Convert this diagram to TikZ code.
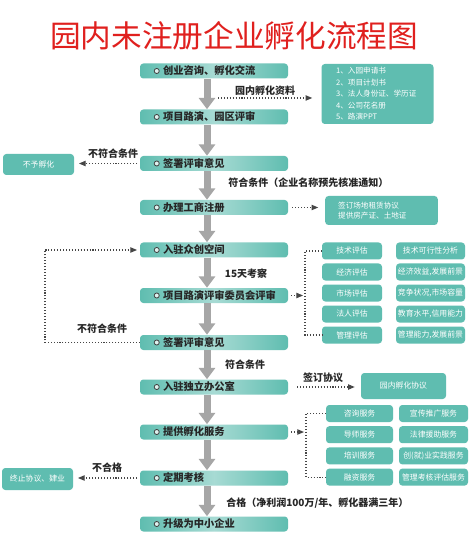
\documentclass[tikz,border=0pt]{standalone}
\usepackage{fontspec}
\setmainfont{Noto Sans CJK SC}
\usetikzlibrary{arrows.meta}
\usepackage{xcolor}
\definecolor{boxteal}{RGB}{95,189,176}
\definecolor{titlered}{RGB}{224,32,30}
\definecolor{flowgray}{RGB}{166,166,166}
\definecolor{dotgray}{RGB}{70,70,70}

\begin{document}
\begin{tikzpicture}[x=0.75pt, y=-0.75pt,
  mainbox/.style={rounded corners=2.5pt, left color=boxteal, right color=boxteal, middle color=boxteal!55!white,
    text width=111pt, minimum height=11.25pt, inner xsep=0pt, inner ysep=1pt, align=left,
    font=\fontsize{7.7}{9}\selectfont\bfseries, text=black!85, execute at begin node=\hspace*{17.25pt}},
  tealbox/.style={rounded corners=2.5pt, fill=boxteal, text=white, inner xsep=0pt, inner ysep=1pt,
    align=center, font=\fontsize{5.9}{7.5}\selectfont},
  infobox/.style={tealbox, align=left},
  lbl/.style={font=\fontsize{7.5}{9}\selectfont\bfseries, text=black!85, inner sep=0pt},
  flow/.style={draw=flowgray, line width=5.25pt, -{Triangle[width=12pt,length=8.5pt]}},
  dotline/.style={draw=dotgray, line width=0.8pt, dash pattern=on 0.8pt off 1.4pt},
  dots/.style={dotline, -{Triangle[length=5pt,width=4pt]}}]
\fill[white] (0,0) rectangle (472,548);
\useasboundingbox (0,0) rectangle (472,548);

\node[font=\fontsize{23}{26}\selectfont, text=titlered] (title) at (234,36) {园内未注册企业孵化流程图};

\foreach \y/\t [count=\n] in {71/创业咨询、孵化交流, 117/项目路演、园区评审, 163.5/签署评审意见,
    207.5/办理工商注册, 250/入驻众创空间, 295.5/项目路演评审委员会评审, 342.5/签署评审意见,
    387/入驻独立办公室, 432/提供孵化服务, 478/定期考核, 524/升级为中小企业}
  \node[mainbox] (b\n) at (214,\y) {\t};
\foreach \n in {1,...,11}
  \draw[draw=black!75, fill=white!80!boxteal, line width=0.6pt] ([xshift=12.75pt]b\n.west) circle (1.9pt);

\coordinate (col) at (207,0);
\foreach \a [count=\b from 2] in {1,...,10}
  \draw[flow] (b\a.south -| col) -- (b\b.north -| col);

\node[infobox, text width=62pt, inner xsep=11pt, minimum height=45pt, font=\fontsize{5.7}{8.6}\selectfont] (info1) at (377.5,94)
  {1、入园申请书\\2、项目计划书\\3、法人身份证、学历证\\4、公司花名册\\5、路演PPT};
\coordinate (d1) at (218,98);
\draw[dots, shorten >=6.75pt] (d1) -- (d1 -| info1.west);
\node[lbl] at (265,91) {园内孵化资料};

\node[tealbox, minimum width=53.25pt, minimum height=15.75pt] (nohatch) at (38.5,164.5) {不予孵化};
\draw[dots, shorten <=2pt, shorten >=3.5pt] (b3.west) -- (b3.west -| nohatch.east);
\node[lbl] at (113,154) {不符合条件};
\node[lbl, anchor=west] at (228,183) {符合条件（企业名称预先核准通知）};

\node[infobox, text width=65pt, inner xsep=9.75pt, minimum height=21.75pt, font=\fontsize{5.7}{7.5}\selectfont] (info2) at (381.5,210.5)
  {签订场地租赁协议\\提供房产证、土地证};
\draw[dots, shorten <=3pt, shorten >=5pt] (b4.east) -- (b4.east -| info2.west);

\node[lbl] at (246,274) {15天考察};
\foreach \l/\r [count=\n from 0] in {技术评估/技术可行性分析, 经济评估/{经济效益,发展前景}, 市场评估/{竞争状况,市场容量},
    法人评估/{教育水平,信用能力}, 管理评估/{管理能力,发展前景}} {
  \node[tealbox, minimum width=45pt, minimum height=12.75pt] (e\the\numexpr\n+1\relax) at (352,251+21*\n) {\l};
  \node[tealbox, minimum width=51.75pt, minimum height=12.75pt] at (430.5,251+21*\n) {\r};
}
\coordinate (k1) at (305,0);
\draw[dots, shorten <=2pt, shorten >=1.5pt] (b6.east) -- (b6.east -| k1);
\draw[dotline] (e1.west) -- (e1.west -| k1) -- (e5.west -| k1) -- (e5.west);

\coordinate (k2) at (45,0);
\draw[dots, shorten >=2pt] (b7.west) -- (b7.west -| k2) -- (b5.west -| k2) -- (b5.west);
\node[lbl] at (102,329) {不符合条件};
\node[lbl] at (245,365) {符合条件};

\node[tealbox, minimum width=63.75pt, minimum height=19.5pt] (xieyi) at (403.5,386) {园内孵化协议};
\draw[dots, shorten <=6.75pt, shorten >=4.5pt] (b8.east) -- (b8.east -| xieyi.west);
\node[lbl] at (323,378) {签订协议};

\foreach \l/\r [count=\n from 0] in {咨询服务/宣传推广服务, 导师服务/法律援助服务, 培训服务/创(就)业实践服务, 融资服务/管理考核评估服务} {
  \node[tealbox, minimum width=50.25pt, minimum height=12.75pt] (s\the\numexpr\n+1\relax) at (359.5,413.5+21.2*\n) {\l};
  \node[tealbox, minimum width=51.75pt, minimum height=12.75pt] at (433.5,413.5+21.2*\n) {\r};
}
\coordinate (k3) at (306,0);
\draw[dots, shorten <=2pt, shorten >=1.5pt] (b9.east) -- (b9.east -| k3);
\draw[dotline] (s1.west) -- (s1.west -| k3) -- (s4.west -| k3) -- (s4.west);

\node[tealbox, minimum width=53.25pt, minimum height=16.5pt] (quit) at (37.5,479) {终止协议、肄业};
\draw[dots, shorten <=2pt, shorten >=3.5pt] (b10.west) -- (b10.west -| quit.east);
\node[lbl] at (107,468) {不合格};
\node[lbl, anchor=west] at (226,503) {合格（净利润100万/年、孵化器满三年）};
\end{tikzpicture}
\end{document}
